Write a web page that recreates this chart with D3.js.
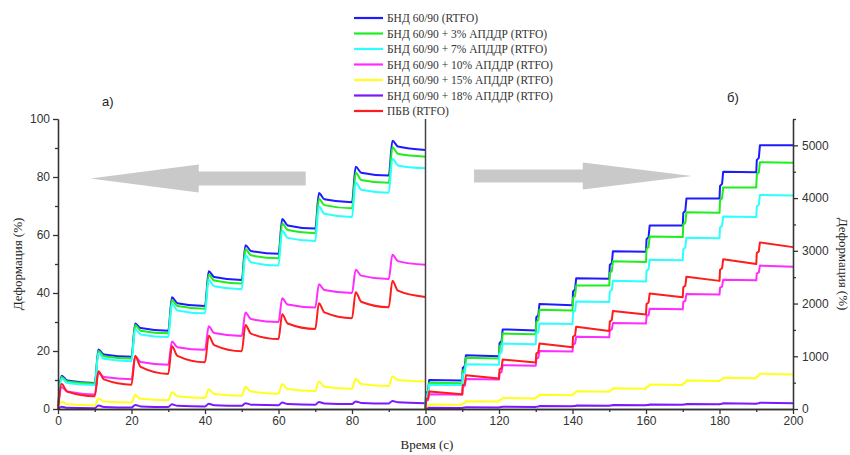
<!DOCTYPE html>
<html>
<head>
<meta charset="utf-8">
<script src="https://cdn.jsdelivr.net/npm/d3@7"></script>
<style>
  body { margin: 0; background: #fff; }
  svg text { font-family: "Liberation Sans", Arial, sans-serif; }
</style>
</head>
<body>
<div id="chart"></div>
<script>
// Dataset: per cycle, panel а) = [peak, value 1.5 s after peak, end of recovery]
const bndA   = [[11.5,9.8,9.0],[20.5,18.8,18.0],[29.5,27.9,27.0],[38.5,36.5,35.5],[47.5,45.5,44.5],[56.5,54.5,53.5],[65.5,63.3,62.2],[74.5,72.3,71.3],[83.5,81.5,80.5],[92.5,90.5,89.3]];
const apd3A  = [[11.0,9.5,8.8],[20.0,18.2,17.4],[29.0,27.0,26.1],[37.5,35.5,34.6],[46.3,44.3,43.3],[55.2,53.0,52.0],[64.0,61.7,60.6],[72.5,70.3,69.2],[81.5,79.0,78.0],[90.3,88.0,87.0]];
const apd7A  = [[10.5,9.0,8.3],[19.2,17.3,16.5],[27.6,25.7,24.8],[36.2,34.0,33.0],[44.6,42.3,41.3],[53.0,50.6,49.5],[61.5,59.0,57.9],[69.8,67.3,66.2],[78.2,75.6,74.6],[86.3,84.0,83.0]];
const apd10A = [[7.5,6.0,5.0],[12.5,11.0,10.3],[18.0,16.2,15.3],[23.3,21.3,20.4],[28.5,26.2,25.2],[33.3,31.0,30.0],[38.2,36.0,35.0],[43.0,41.0,40.0],[48.0,46.0,44.8],[53.2,51.0,49.7]];
const apd15A = [[2.5,1.6,1.2],[3.6,2.6,2.2],[4.8,3.5,3.0],[5.8,4.4,3.8],[6.8,5.2,4.6],[7.7,6.0,5.3],[8.6,6.9,6.2],[9.5,7.7,7.0],[10.4,8.6,7.9],[11.2,10.0,9.5]];
const apd18A = [[0.8,0.4,0.3],[1.2,0.7,0.5],[1.4,0.9,0.7],[1.6,1.1,0.9],[1.8,1.3,1.1],[2.0,1.5,1.3],[2.2,1.7,1.5],[2.4,1.9,1.7],[2.6,2.1,1.9],[2.8,2.3,2.0]];
const pbvA   = [[8.6,6.0,4.4],[13.0,10.2,8.4],[18.4,14.5,12.1],[21.6,18.3,16.1],[25.3,22.0,19.9],[29.0,26.0,24.1],[32.7,29.5,27.6],[36.5,33.3,31.3],[40.3,37.0,35.1],[44.2,40.8,38.6]];

// panel б) = [intermediate step, peak, end of cycle]
const bndB   = [[300,550,540],[780,1020,1000],[1250,1510,1490],[1740,1990,1970],[2230,2480,2470],[2730,2990,2980],[3220,3480,3480],[3720,3990,3990],[4230,4500,4490],[4720,5000,5000]];
const apd3B  = [[280,500,490],[720,970,960],[1190,1430,1420],[1650,1880,1870],[2110,2340,2340],[2580,2800,2790],[3040,3270,3260],[3500,3730,3720],[3960,4200,4200],[4450,4680,4670]];
const apd7B  = [[250,460,455],[650,850,840],[1050,1240,1230],[1430,1620,1610],[1830,2040,2030],[2230,2430,2420],[2620,2830,2820],[3030,3250,3240],[3440,3650,3640],[3840,4060,4050]];
const apd10B = [[150,280,270],[420,570,560],[680,830,820],[950,1100,1090],[1220,1370,1360],[1490,1630,1620],[1760,1900,1890],[2030,2180,2170],[2300,2450,2440],[2570,2720,2700]];
const apd15B = [[50,85,80],[110,145,140],[170,210,200],[230,270,260],[290,335,325],[350,395,385],[420,465,455],[490,540,530],[550,595,585],[620,670,655]];
const apd18B = [[10,25,20],[25,35,30],[35,45,40],[45,55,50],[55,65,60],[65,75,70],[75,85,80],[85,95,90],[95,110,100],[105,120,110]];
const pbvB   = [[180,330,280],[450,640,580],[750,940,880],[1050,1240,1170],[1370,1560,1480],[1660,1860,1790],[1990,2190,2120],[2310,2510,2430],[2640,2840,2750],[2960,3160,3070]];

const seriesNames = ["БНД 60/90 (RTFO)", "БНД 60/90 + 3% АПДДР (RTFO)", "БНД 60/90 + 7% АПДДР (RTFO)",
  "БНД 60/90 + 10% АПДДР (RTFO)", "БНД 60/90 + 15% АПДДР (RTFO)", "БНД 60/90 + 18% АПДДР (RTFO)", "ПБВ (RTFO)"];
const seriesColors = ["#1c1cff", "#1eee1e", "#2cffff", "#ff2cff", "#ffff1e", "#7a18ff", "#ff1c1c"];
const dataA = [bndA, apd3A, apd7A, apd10A, apd15A, apd18A, pbvA];
const dataB = [bndB, apd3B, apd7B, apd10B, apd15B, apd18B, pbvB];

const xTicks = d3.range(0, 201, 20);
const yTicksL = d3.range(0, 101, 20);
const yTicksR = d3.range(0, 5001, 1000);

// Variables for Environment
const width = 850, height = 455;
const svg = d3.select("#chart").append("svg")
  .attr("width", width).attr("height", height);

const x = d3.scaleLinear().domain([0, 200]).range([58, 793]);
const yL = d3.scaleLinear().domain([0, 100]).range([409, 119]);
const yR = d3.scaleLinear().domain([0, 5500]).range([409, 119]);

// Arrows (annotation, in data units)
const arrowGrey = "#c9c9c9";
function arrow(xTail, xBase, xTip, yc, shaft, head) {
  return [[x(xTail), yc - shaft], [x(xBase), yc - shaft], [x(xBase), yc - head], [x(xTip), yc],
          [x(xBase), yc + head], [x(xBase), yc + shaft], [x(xTail), yc + shaft]];
}
svg.append("polygon").attr("fill", arrowGrey)
  .attr("points", arrow(67.4, 38.3, 8.8, yL(79.5), 7, 14).join(" "));
svg.append("polygon").attr("fill", arrowGrey)
  .attr("points", arrow(113.2, 142.8, 172.5, yR(4420), 6.5, 13.5).join(" "));

// Build the curves
const lineA = d3.line().x(d => x(d[0])).y(d => yL(d[1])).curve(d3.curveMonotoneX);
const lineB = d3.line().x(d => x(d[0])).y(d => yR(d[1]));

function pointsA(cycles) {
  const pts = [[0, 0]];
  cycles.forEach((c, i) => {
    const t = i * 10;
    pts.push([t + 1, c[0]], [t + 2.5, c[1]], [t + 10, c[2]]);
  });
  return pts;
}
function pointsB(cycles) {
  const pts = [[100, 0]];
  cycles.forEach((c, i) => {
    const t = 100 + i * 10;
    pts.push([t + 0.15, c[0]], [t + 0.7, c[0] + (c[1] - c[0]) * 0.15], [t + 1, c[1]], [t + 10, c[2]]);
  });
  return pts;
}

const plot = svg.append("g");
dataA.forEach((s, i) => {
  plot.append("path").attr("d", lineA(pointsA(s)))
    .attr("fill", "none").attr("stroke", seriesColors[i]).attr("stroke-width", 2)
    .attr("stroke-linejoin", "round");
});
dataB.forEach((s, i) => {
  plot.append("path").attr("d", lineB(pointsB(s)))
    .attr("fill", "none").attr("stroke", seriesColors[i]).attr("stroke-width", 2)
    .attr("stroke-linejoin", "round");
});

// Create Axes
const axisColor = "#333";
function styleAxis(g) {
  g.selectAll("path, line").attr("stroke", axisColor).attr("stroke-width", 1.3);
  g.selectAll("text").attr("fill", "#333").style("font-size", "12px")
    .style("font-family", "'Liberation Sans', Arial, sans-serif");
}

svg.append("g").attr("transform", "translate(0,409)")
  .call(d3.axisBottom(x).tickValues(d3.range(10, 200, 20)).tickSize(3).tickSizeOuter(0).tickFormat(""))
  .call(styleAxis);
svg.append("g").attr("transform", "translate(0,409)")
  .call(d3.axisBottom(x).tickValues(xTicks).tickSize(5).tickSizeOuter(0).tickPadding(2))
  .call(styleAxis);

svg.append("g").attr("transform", "translate(58,0)")
  .call(d3.axisLeft(yL).tickValues(d3.range(10, 100, 20)).tickSize(3).tickSizeOuter(0).tickFormat(""))
  .call(styleAxis);
svg.append("g").attr("transform", "translate(58,0)")
  .call(d3.axisLeft(yL).tickValues(yTicksL).tickSize(5).tickSizeOuter(0).tickPadding(3))
  .call(styleAxis);

svg.append("g").attr("transform", "translate(793,0)")
  .call(d3.axisRight(yR).tickValues(d3.range(500, 5501, 1000)).tickSize(3).tickSizeOuter(0).tickFormat(""))
  .call(styleAxis);
svg.append("g").attr("transform", "translate(793,0)")
  .call(d3.axisRight(yR).tickValues(yTicksR).tickSize(5).tickSizeOuter(0).tickPadding(4)
    .tickFormat(d3.format("d")))
  .call(styleAxis);

// divider between panels
svg.append("line")
  .attr("x1", x(100)).attr("x2", x(100)).attr("y1", yL(100)).attr("y2", yL(0))
  .attr("stroke", "#444").attr("stroke-width", 1.5);

// Axis titles
const serif = "'Liberation Serif', 'Times New Roman', serif";
svg.append("text").attr("x", 427).attr("y", 449).attr("text-anchor", "middle")
  .style("font-family", serif).style("font-size", "13px").attr("fill", "#222")
  .text("Время (с)");
svg.append("text").attr("transform", "translate(22,264) rotate(-90)").attr("text-anchor", "middle")
  .style("font-family", serif).style("font-size", "13px").attr("fill", "#222")
  .text("Деформация (%)");
svg.append("text").attr("transform", "translate(839,264) rotate(90)").attr("text-anchor", "middle")
  .style("font-family", serif).style("font-size", "13px").attr("fill", "#222")
  .text("Деформация (%)");

// Panel labels
svg.append("text").attr("x", 102).attr("y", 106).style("font-size", "13px").attr("fill", "#222").text("а)");
svg.append("text").attr("x", 727).attr("y", 102).style("font-size", "13px").attr("fill", "#222").text("б)");

// Legend
const legend = svg.append("g");
seriesNames.forEach((name, i) => {
  const yy = 18 + i * 15.5;
  legend.append("line").attr("x1", 354).attr("x2", 383).attr("y1", yy).attr("y2", yy)
    .attr("stroke", seriesColors[i]).attr("stroke-width", 2.2);
  legend.append("text").attr("x", 387).attr("y", yy).attr("dy", "0.35em")
    .style("font-family", serif).style("font-size", "11.5px").attr("fill", "#333")
    .text(name);
});
</script>
</body>
</html>
